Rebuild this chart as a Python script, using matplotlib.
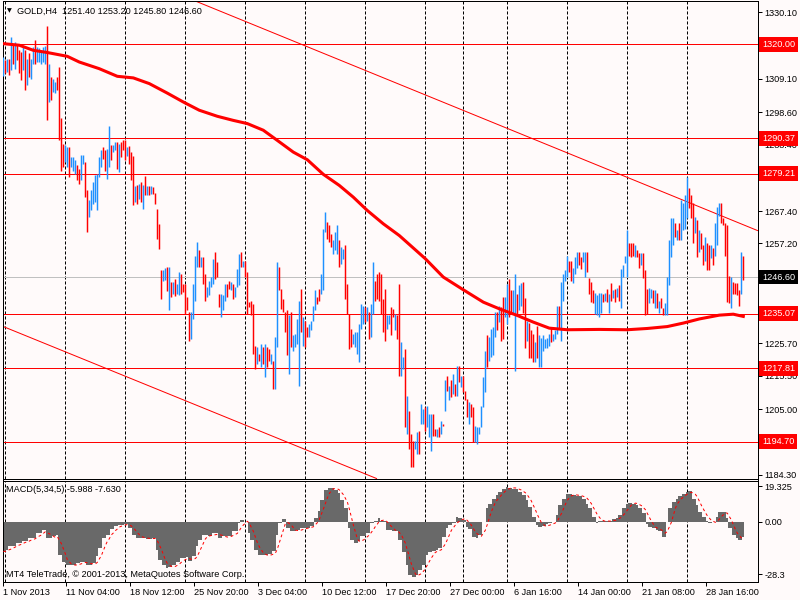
import numpy as np
import pandas as pd
import matplotlib
matplotlib.use('Agg')
import matplotlib.pyplot as plt

plt.rcParams['font.family'] = ['Liberation Sans', 'DejaVu Sans']
plt.rcParams['lines.scale_dashes'] = False

# ---- GOLD H4 bars (high / low, u = up bar, d = down bar), 1 Nov 2013 .. 30 Jan 2014
highs = [
    1316.0, 1315.0, 1315.5, 1315.5, 1322.3, 1320.2, 1320.7, 1319.7, 1318.1, 1317.6,
    1319.2, 1318.1, 1315.5, 1317.1, 1315.5, 1319.2, 1321.5, 1319.2, 1318.7, 1318.3,
    1319.2, 1319.4, 1325.7, 1313.9, 1309.7, 1309.2, 1308.1, 1309.7, 1312.8, 1296.6,
    1288.7, 1288.1, 1287.6, 1287.6, 1284.4, 1284.4, 1283.4, 1281.8, 1280.8, 1285.0,
    1285.0, 1282.9, 1273.9, 1270.8, 1273.9, 1276.6, 1278.7, 1279.2, 1284.4, 1286.6,
    1287.6, 1286.6, 1287.1, 1294.1, 1288.1, 1288.1, 1289.2, 1289.2, 1288.7, 1289.2,
    1289.7, 1289.7, 1287.6, 1287.8, 1286.0, 1284.7, 1275.2, 1275.5, 1276.1, 1276.6,
    1275.5, 1278.4, 1275.2, 1275.2, 1275.2, 1275.0, 1273.1, 1268.2, 1263.2, 1248.7,
    1248.7, 1249.5, 1249.7, 1249.7, 1245.0, 1245.0, 1246.1, 1244.5, 1248.2, 1247.6,
    1244.5, 1244.5, 1240.3, 1235.5, 1235.5, 1244.5, 1253.4, 1257.6, 1255.0, 1252.9,
    1252.9, 1247.6, 1243.4, 1245.5, 1246.6, 1252.4, 1254.5, 1251.3, 1241.3, 1241.3,
    1240.8, 1244.5, 1244.5, 1245.5, 1245.0, 1244.5, 1243.4, 1249.2, 1254.0, 1254.5,
    1251.8, 1251.8, 1248.2, 1238.7, 1239.2, 1238.2, 1225.0, 1224.5, 1222.4, 1225.6,
    1224.5, 1225.6, 1224.5, 1224.0, 1222.4, 1220.3, 1227.6, 1251.3, 1249.7, 1242.9,
    1239.8, 1235.5, 1236.1, 1234.5, 1235.5, 1228.2, 1228.7, 1233.4, 1239.2, 1242.9,
    1234.0, 1232.9, 1230.8, 1231.9, 1232.9, 1237.6, 1242.6, 1240.3, 1242.9, 1247.6,
    1261.8, 1267.1, 1263.9, 1262.9, 1260.3, 1258.2, 1260.8, 1262.9, 1258.2, 1256.0,
    1255.5, 1256.6, 1244.5, 1235.0, 1230.3, 1228.7, 1229.2, 1229.2, 1231.9, 1238.2,
    1237.6, 1237.1, 1237.1, 1235.5, 1238.2, 1251.3, 1245.5, 1247.6, 1248.2, 1247.6,
    1239.8, 1242.9, 1234.5, 1234.5, 1237.1, 1236.6, 1235.0, 1234.5, 1244.5, 1226.1,
    1221.3, 1224.0, 1209.2, 1204.5, 1197.1, 1195.0, 1195.0, 1197.7, 1198.2, 1206.6,
    1205.0, 1205.5, 1206.1, 1203.5, 1203.5, 1203.5, 1198.7, 1198.7, 1199.2, 1201.3,
    1200.3, 1214.0, 1215.5, 1212.4, 1214.0, 1216.1, 1212.9, 1218.7, 1218.7, 1215.5,
    1215.5, 1210.8, 1208.2, 1207.1, 1206.6, 1205.5, 1199.5, 1199.2, 1199.2, 1206.1,
    1215.0, 1223.4, 1228.2, 1227.6, 1230.3, 1230.8, 1235.5, 1235.5, 1237.6, 1237.1,
    1240.3, 1240.3, 1244.5, 1246.1, 1242.4, 1242.4, 1247.7, 1241.4, 1244.0, 1244.6,
    1244.9, 1239.9, 1232.9, 1232.0, 1229.8, 1228.8, 1226.0, 1231.3, 1228.2, 1227.5,
    1228.2, 1227.2, 1227.5, 1228.8, 1230.4, 1228.8, 1229.8, 1237.6, 1237.6, 1244.9,
    1247.7, 1248.7, 1253.4, 1251.8, 1251.8, 1249.6, 1252.8, 1254.4, 1254.4, 1252.8,
    1254.4, 1254.4, 1254.4, 1246.2, 1244.9, 1242.4, 1241.7, 1240.8, 1241.7, 1241.7,
    1241.4, 1241.7, 1243.0, 1241.4, 1244.6, 1242.4, 1243.0, 1243.3, 1244.0, 1249.3,
    1250.3, 1253.4, 1261.3, 1257.2, 1257.2, 1257.2, 1256.6, 1255.0, 1254.1, 1254.1,
    1254.1, 1248.7, 1243.0, 1243.3, 1243.0, 1242.4, 1242.4, 1241.7, 1239.2, 1239.9,
    1237.0, 1238.3, 1246.5, 1258.2, 1265.1, 1265.1, 1263.8, 1261.3, 1263.8, 1270.8,
    1269.8, 1272.4, 1278.0, 1274.6, 1272.4, 1270.1, 1265.4, 1264.5, 1261.3, 1260.4,
    1256.6, 1259.1, 1257.2, 1256.6, 1256.6, 1255.9, 1263.8, 1268.6, 1269.8, 1269.8,
    1265.1, 1263.5, 1262.9, 1247.1, 1246.5, 1244.9, 1244.6, 1244.6, 1242.4, 1254.4,
    1253.2,
]
lows = [
    1310.0, 1310.8, 1311.3, 1310.2, 1311.8, 1313.9, 1312.3, 1315.0, 1310.8, 1308.7,
    1311.8, 1305.5, 1307.1, 1309.7, 1309.2, 1313.9, 1313.9, 1314.4, 1314.4, 1313.9,
    1314.4, 1313.9, 1296.0, 1301.8, 1302.3, 1305.0, 1304.5, 1305.5, 1289.7, 1280.2,
    1281.3, 1282.9, 1281.3, 1278.1, 1281.3, 1280.2, 1279.2, 1277.1, 1276.1, 1277.1,
    1282.4, 1271.8, 1260.8, 1265.5, 1267.6, 1269.7, 1270.2, 1267.6, 1278.1, 1281.3,
    1283.9, 1280.2, 1277.6, 1281.3, 1283.4, 1286.0, 1286.6, 1280.8, 1279.7, 1284.4,
    1286.6, 1283.4, 1284.7, 1282.4, 1277.1, 1269.2, 1270.2, 1269.7, 1271.3, 1270.2,
    1268.2, 1272.4, 1272.4, 1272.4, 1272.9, 1272.9, 1269.7, 1258.7, 1255.5, 1239.8,
    1245.5, 1245.8, 1242.2, 1236.1, 1240.3, 1241.3, 1240.5, 1241.3, 1240.8, 1241.3,
    1241.8, 1235.0, 1236.1, 1226.6, 1227.1, 1233.4, 1239.2, 1249.7, 1249.7, 1249.7,
    1244.5, 1239.2, 1240.3, 1240.8, 1243.4, 1244.5, 1246.1, 1246.6, 1237.1, 1234.0,
    1236.1, 1239.2, 1240.3, 1242.9, 1242.4, 1239.8, 1240.3, 1243.4, 1244.0, 1249.7,
    1249.7, 1246.6, 1235.0, 1237.1, 1234.5, 1222.4, 1217.7, 1219.2, 1220.3, 1218.2,
    1219.2, 1215.0, 1218.2, 1220.3, 1219.2, 1211.4, 1211.4, 1224.5, 1242.4, 1236.6,
    1235.5, 1229.2, 1221.9, 1216.1, 1224.5, 1223.4, 1224.5, 1225.6, 1212.4, 1229.2,
    1225.0, 1224.5, 1227.6, 1227.6, 1229.8, 1232.9, 1236.1, 1238.2, 1239.2, 1241.3,
    1242.4, 1260.8, 1258.7, 1257.6, 1256.0, 1254.0, 1255.0, 1254.0, 1249.7, 1250.8,
    1252.4, 1239.8, 1235.0, 1224.0, 1224.5, 1225.6, 1224.5, 1222.4, 1219.7, 1230.3,
    1231.9, 1232.4, 1232.9, 1227.1, 1227.6, 1235.0, 1239.2, 1239.8, 1239.2, 1235.0,
    1229.2, 1226.6, 1230.3, 1231.9, 1228.2, 1233.9, 1229.8, 1227.1, 1215.5, 1215.5,
    1217.7, 1199.2, 1197.1, 1192.4, 1186.6, 1186.6, 1192.4, 1190.8, 1190.8, 1200.3,
    1200.3, 1198.2, 1199.2, 1196.1, 1191.9, 1196.6, 1196.6, 1196.1, 1196.1, 1197.1,
    1199.8, 1204.5, 1210.8, 1207.7, 1208.7, 1209.8, 1209.2, 1209.2, 1213.4, 1211.9,
    1210.3, 1207.7, 1202.4, 1200.3, 1202.4, 1194.5, 1194.5, 1194.0, 1197.1, 1199.2,
    1205.5, 1210.3, 1218.2, 1220.3, 1221.3, 1221.9, 1227.6, 1229.8, 1232.4, 1226.6,
    1227.1, 1233.9, 1231.9, 1233.9, 1235.5, 1235.0, 1217.1, 1234.5, 1236.1, 1237.6,
    1235.4, 1224.4, 1226.6, 1221.2, 1221.2, 1219.7, 1219.7, 1221.2, 1218.1, 1218.1,
    1223.4, 1224.1, 1224.4, 1225.0, 1226.0, 1226.6, 1227.2, 1228.8, 1230.7, 1226.6,
    1239.2, 1245.5, 1246.5, 1248.1, 1245.5, 1244.6, 1247.7, 1249.6, 1250.3, 1249.3,
    1251.2, 1246.5, 1248.1, 1241.4, 1238.6, 1238.3, 1235.1, 1234.5, 1233.9, 1235.4,
    1238.6, 1239.2, 1238.6, 1235.4, 1239.2, 1239.9, 1238.6, 1240.2, 1239.2, 1237.0,
    1246.5, 1250.9, 1246.5, 1253.4, 1252.8, 1253.4, 1252.8, 1252.8, 1249.6, 1250.3,
    1246.2, 1234.5, 1235.1, 1238.3, 1239.9, 1238.3, 1237.0, 1236.7, 1235.4, 1237.0,
    1234.5, 1234.5, 1234.5, 1244.0, 1252.8, 1256.6, 1259.1, 1258.2, 1258.2, 1258.2,
    1261.3, 1261.9, 1265.1, 1268.3, 1265.1, 1257.5, 1260.4, 1252.8, 1254.4, 1255.6,
    1250.3, 1251.8, 1248.7, 1248.7, 1252.5, 1250.3, 1253.4, 1256.6, 1266.0, 1263.5,
    1262.9, 1253.4, 1238.6, 1238.3, 1237.0, 1241.4, 1241.4, 1240.8, 1237.6, 1241.4,
    1245.8,
]
direction = (
    "ududududdd" "ududuuduuu" "uududuuddd" "duuduuuddu" "udduuuuuuu"
    "dduuduudud" "ddudddudud" "udududdddd" "uudududuud" "dddduuuudu"
    "dduuuudddu" "uudduduuud" "uddddddudu" "dudduduudd" "ddduduuuud"
    "udduuuuddu" "uuddduuudu" "udddduuuuu" "ududuudddd" "dduudduddu"
    "ududdduudu" "uduuuddudu" "dududududu" "dddudduuuu" "uuduuuudud"
    "duudduuduu" "dduddduduu" "uuuuduuudu" "uuudduuudd" "uudddduuuu"
    "dududududu" "uuuddduddu" "ddduududud" "duuuuududu" "uuudddudud"
    "dudduduuud" "dddduddddu" "d"
)
assert len(highs) == len(lows) == len(direction)

# moving average (red thick line), read at bar positions
ma_idx = [0, 8, 15, 22, 32, 38, 48, 57, 65, 73, 82, 90, 98, 107, 115, 122, 130,
          137, 145, 152, 160, 168, 175, 182, 190, 198, 211, 220, 230, 240, 248,
          257, 265, 273, 282, 298, 312, 322, 332, 340, 348, 358, 365, 370]
ma_val = [1320.2, 1319.7, 1318.1, 1317.4, 1316.2, 1314.4, 1312.3, 1309.9, 1309.4,
          1307.6, 1304.6, 1301.8, 1299.2, 1297.3, 1296.0, 1295.0, 1292.9, 1289.7,
          1286.0, 1283.6, 1279.0, 1275.5, 1271.8, 1267.6, 1263.4, 1259.7, 1252.4,
          1246.6, 1242.6, 1238.7, 1236.6, 1234.5, 1232.4, 1230.5, 1230.0, 1230.1,
          1230.0, 1230.4, 1231.0, 1232.1, 1233.4, 1234.6, 1234.9, 1234.2]

levels = [1320.00, 1290.37, 1279.21, 1235.07, 1217.81, 1194.70]
last_price = 1246.60
trend_upper = [(95, 1333.9), (377, 1261.3)]
trend_lower = [(0, 1231.0), (187, 1183.0)]

price_ticks = [1330.10, 1309.10, 1298.60, 1288.40, 1277.90, 1267.40, 1257.20,
               1236.30, 1225.70, 1215.50, 1205.00, 1184.30]

# MACD(5,34,5) histogram readings
macd_idx = [0, 2, 3, 7, 10, 13, 17, 20, 22, 25, 27, 28, 30, 32, 34, 37, 39, 42, 45,
            47, 48, 50, 52, 54, 56, 58, 61, 63, 65, 67, 69, 72, 75, 77, 78, 80, 82,
            83, 85, 87, 89, 92, 93, 95, 97, 98, 100, 103, 105, 108, 110, 113, 115,
            118, 119, 121, 123, 124, 126, 128, 130, 133, 135, 137, 138, 140, 142,
            144, 147, 149, 152, 154, 156, 158, 159, 161, 163, 164, 166, 168, 169,
            171, 173, 174, 176, 178, 179, 182, 184, 186, 188, 189, 192, 195, 198,
            200, 202, 203, 205, 207, 208, 210, 212, 213, 215, 217, 218, 220, 222,
            223, 225, 227, 228, 230, 232, 233, 235, 237, 238, 240, 242, 243, 245,
            247, 248, 250, 252, 253, 255, 257, 258, 260, 262, 263, 265, 267, 268,
            270, 272, 273, 275, 277, 278, 280, 282, 283, 285, 287, 288, 290, 292,
            293, 295, 297, 298, 300, 302, 303, 305, 307, 308, 310, 312, 313, 315,
            317, 318, 320, 322, 323, 325, 327, 328, 330, 332, 333, 335, 337, 338,
            340, 342, 343, 345, 347, 348, 350, 352, 353, 355, 357, 358, 360, 362,
            363, 365, 367, 368, 370]
macd_val = [-16.0, -15.1, -13.3, -11.5, -10.6, -8.8, -6.1, -4.3, -8.8, -7.9, -7.0,
            -17.8, -21.8, -23.2, -23.6, -22.3, -21.8, -23.2, -22.3, -18.7, -14.2,
            -8.8, -7.0, -3.8, -2.5, -1.6, -1.3, -3.4, -7.0, -8.5, -8.8, -9.2, -8.8,
            -15.1, -20.5, -23.2, -25.0, -24.7, -23.2, -21.8, -19.6, -19.3, -21.4,
            -18.7, -13.3, -9.7, -7.0, -7.9, -6.1, -8.8, -7.9, -7.9, -5.2, -0.7, 1.1,
            0.0, -6.1, -9.7, -15.1, -17.8, -18.2, -17.5, -16.0, -7.0, -0.7, 1.6,
            -3.4, -5.2, -4.3, -3.4, -3.1, -2.0, 2.3, 5.6, 11.9, 17.3, 18.5, 18.2,
            17.3, 15.5, 11.9, 7.4, -3.4, -9.7, -11.5, -10.6, -7.9, -6.1, -0.7, 0.5,
            2.3, 0.5, -4.3, -4.9, -10.0,
            -16.2, -23.4, -28.8, -29.7, -28.8, -26.1, -23.4, -18.0, -16.6, -15.8,
            -15.3, -14.4, -8.1, -3.6, -1.8, -0.9, 2.7, 2.2, 0.9, -2.7, -4.0, -8.1,
            -8.6, -7.2, 0.0, 7.2, 9.9, 12.6, 14.4, 16.2, 18.0, 18.9, 18.4, 18.0,
            17.6, 16.2, 14.4, 11.7, 8.1, 2.7, -1.8, -2.7, -2.2, -1.4, -0.9, 0.0,
            3.6, 9.0, 12.6, 15.3, 14.8, 14.4, 14.0, 14.0, 12.6, 9.9, 7.2, 2.7,
            -0.4, 0.4, 0.4, 0.4, 0.4, 1.4, 2.2, 3.6, 7.2, 9.9, 10.4, 9.9, 9.0, 7.6,
            4.5, -1.4, -2.7, -3.6, -4.5, -5.0, -8.1, 0.0, 7.2, 10.8, 12.6, 14.0,
            15.3, 16.2, 16.6, 12.6, 9.0, 5.4, 2.7, 0.4, -0.9, 0.0, 2.7, 5.4, 5.4,
            1.8, -3.6, -7.2, -9.0, -9.9, -8.1]
assert len(macd_idx) == len(macd_val)

grid_idx = [1, 31, 61, 91, 121, 151, 181, 211, 230, 252, 282, 312, 342]
date_pos = [-0.3, 31.5, 63.5, 95.5, 127.5, 159.5, 191.5, 223.5, 255.5, 287.5,
            319.5, 351.5]
date_labels = ['1 Nov 2013', '11 Nov 04:00', '18 Nov 12:00', '25 Nov 20:00',
               '3 Dec 04:00', '10 Dec 12:00', '17 Dec 20:00', '27 Dec 00:00',
               '6 Jan 16:00', '14 Jan 00:00', '21 Jan 08:00', '28 Jan 16:00']

BG = '#FFFAFA'
UP = '#1E90FF'
DN = '#FF0000'
FS = 6.6
PX = 0.72  # one pixel in points

W, H = 800, 600
def rect(x0, y0, x1, y1):
    return [x0 / W, 1 - y1 / H, (x1 - x0) / W, (y1 - y0) / H]

fig = plt.figure(figsize=(8, 6), dpi=100, facecolor=BG)
ax = fig.add_axes(rect(2.5, 0.5, 757.5, 478.5), facecolor=BG)
ax2 = fig.add_axes(rect(2.5, 480.5, 757.5, 581.5), facecolor=BG)

n = len(highs)
idx = np.arange(n)
cols = [UP if c == 'u' else DN for c in direction]

for a in (ax, ax2):
    a.set_xlim(-0.4, 377.1)
    for s in a.spines.values():
        s.set_linewidth(PX)
        s.set_color('black')
    for g in grid_idx:
        a.axvline(g, color='black', lw=PX, ls=(0, (2.2, 1.4)), zorder=1)
    a.yaxis.tick_right()
    a.tick_params(axis='y', direction='out', length=3, width=PX, labelsize=FS, pad=2)

# ---- price panel
ax.set_ylim(1183.1, 1333.8)
ax.set_xticks([])
ax.set_yticks(price_ticks)
ax.set_yticklabels([f'{v:.2f}' for v in price_ticks])

ax.axhline(last_price, color='#C0C0C0', lw=PX, zorder=2)
for lv in levels:
    ax.axhline(lv, color=DN, lw=PX, zorder=2)
for p1, p2 in (trend_upper, trend_lower):
    ax.axline(p1, p2, color=DN, lw=PX, zorder=2)

ax.vlines(idx, lows, highs, colors=cols, lw=1.05, zorder=3)
ax.plot(ma_idx, ma_val, color=DN, lw=2.2, zorder=4, solid_joinstyle='round')

tr = ax.get_yaxis_transform()
for lv in levels:
    ax.text(1.0058, lv, f'{lv:.2f}', transform=tr, color='white', fontsize=FS,
            va='center', ha='left', clip_on=False, zorder=10,
            bbox=dict(boxstyle='square,pad=0.3', fc=DN, ec='none'))
ax.text(1.0058, last_price, f'{last_price:.2f}', transform=tr, color='white',
        fontsize=FS, va='center', ha='left', clip_on=False, zorder=10,
        bbox=dict(boxstyle='square,pad=0.3', fc='black', ec='none'))

fig.text(7 / W, 1 - 11 / H, '\u25bc', fontsize=4.5, va='center', ha='left',
         family='DejaVu Sans')
fig.text(17 / W, 1 - 11 / H, 'GOLD,H4  1251.40 1253.20 1245.80 1246.60',
         fontsize=FS, va='center', ha='left')

# ---- MACD panel
widths = np.diff(np.append(macd_idx, n))
ax2.bar(np.array(macd_idx) - 0.5, macd_val, width=widths, align='edge',
        color='#696969', lw=0, zorder=2)
step = np.repeat(macd_val, widths)
signal = pd.Series(step).rolling(5, min_periods=1).mean()
ax2.plot(idx, signal, color=DN, lw=PX, ls=(0, (2, 2)), zorder=3)

ax2.set_ylim(-32.3, 22.35)
ax2.set_yticks([19.325, 0.0, -28.3])
ax2.set_yticklabels(['19.325', '0.00', '-28.3'])
ax2.set_xticks(date_pos)
ax2.set_xticklabels(date_labels, ha='left')
ax2.tick_params(axis='x', direction='out', length=3, width=PX, labelsize=FS, pad=2)

fig.text(6.5 / W, 1 - 489.5 / H, 'MACD(5,34,5) -5.988 -7.630', fontsize=FS,
         va='center', ha='left')
fig.text(6.5 / W, 1 - 574.7 / H,
         'MT4 TeleTrade, \u00a9 2001-2013, MetaQuotes Software Corp.',
         fontsize=FS, va='center', ha='left')

fig.savefig('out.png', dpi=100, facecolor=BG)
